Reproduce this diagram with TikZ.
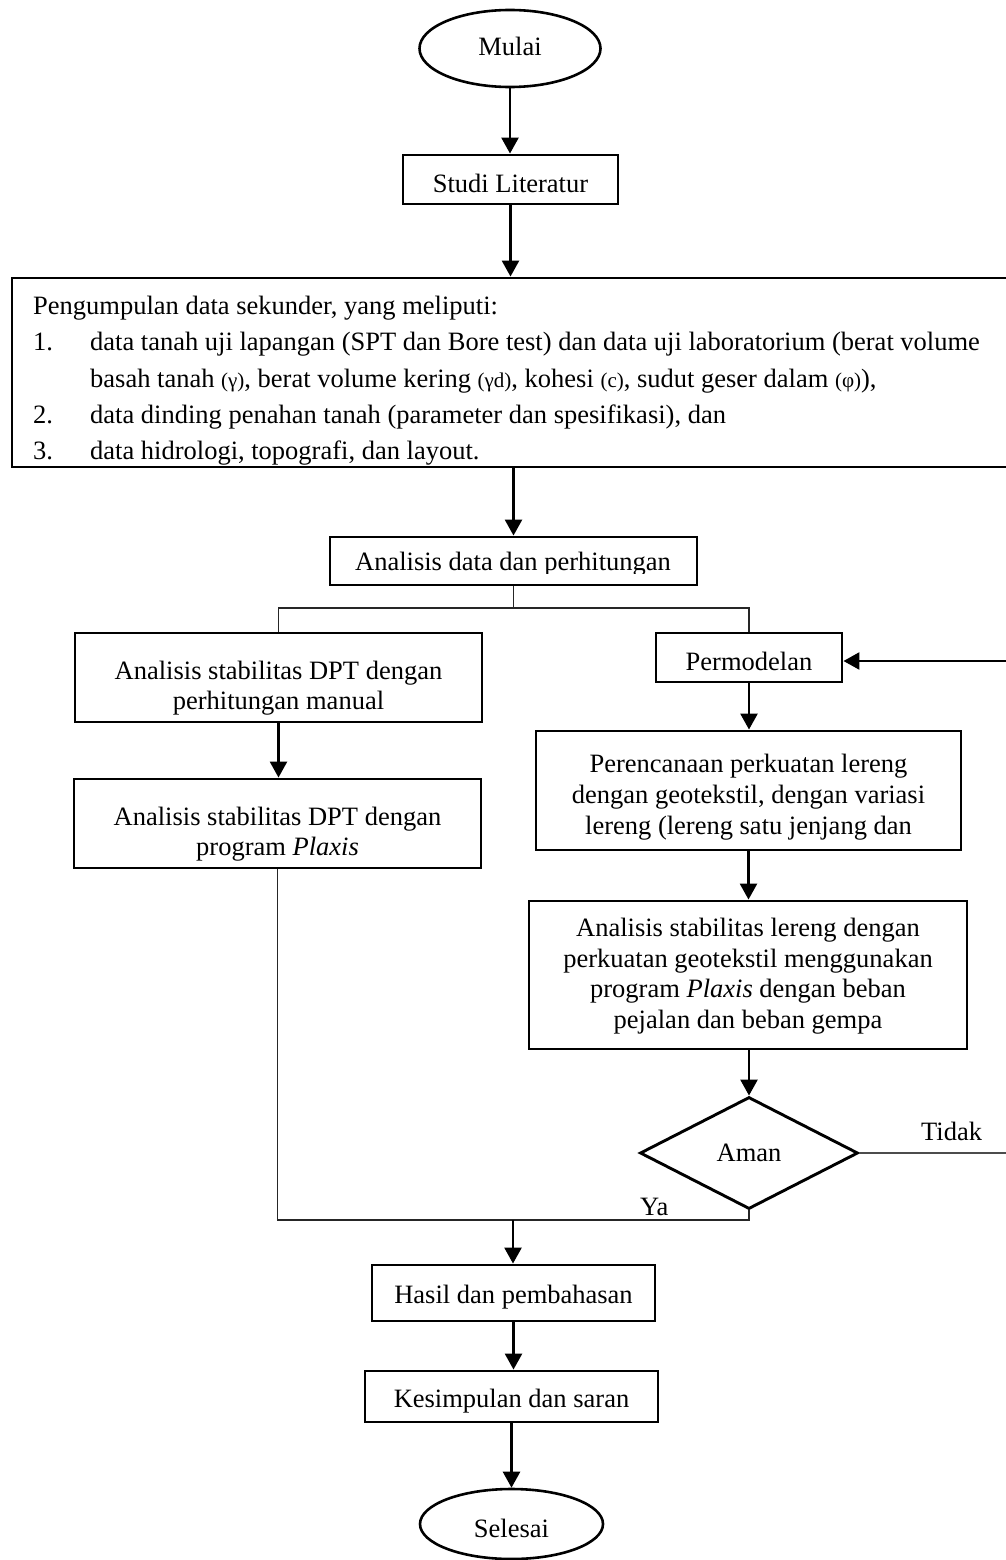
\documentclass[tikz,border=0pt]{standalone}
\usepackage{fontspec}
\setmainfont{Liberation Serif}
\usetikzlibrary{shapes.geometric,arrows.meta}
\newcommand{\fz}{\fontsize{26.5pt}{30.5pt}\selectfont}
\newcommand{\smf}{\fontsize{21pt}{30.5pt}\selectfont}
\begin{document}
\begin{tikzpicture}[x=1pt,y=-1pt,
  boxnode/.style={draw,line width=2.9pt,inner sep=0pt,rectangle},
  ovalnode/.style={draw,line width=2.6pt,inner sep=0pt,ellipse},
  txt/.style={inner sep=0pt,anchor=base,font=\fz},
  ltxt/.style={inner sep=0pt,anchor=base west,font=\fz},
  arr/.style={line width=2.6pt,-{Triangle[length=16pt,width=17pt]}},
  thinline/.style={line width=1.1pt,black!85},
]
\useasboundingbox (0,0) rectangle (1005,1560);

% start / end
\node[ovalnode,minimum width=181pt,minimum height=77pt] (mulai) at (510,48.5) {};
\node[txt] (tmulai) at (510,56) {Mulai};

\node[boxnode,minimum width=215pt,minimum height=49pt] (studi) at (510.5,179.5) {};
\node[txt] (tstudi) at (510.5,192) {Studi Literatur};

% big data box
\node[boxnode,minimum width=1000pt,minimum height=189pt] (data) at (512,372.5) {};
\node[ltxt] (l1) at (33,314) {Pengumpulan data sekunder, yang meliputi:};
\node[ltxt] (l2) at (33,350) {\makebox[57pt][l]{1.}data tanah uji lapangan (SPT dan Bore test) dan data uji laboratorium (berat volume};
\node[ltxt] (l3) at (90,387) {basah tanah {\smf(γ)}, berat volume kering {\smf(γd)}, kohesi {\smf(c)}, sudut geser dalam {\smf(φ)}),};
\node[ltxt] (l4) at (33,423) {\makebox[57pt][l]{2.}data dinding penahan tanah (parameter dan spesifikasi), dan};
\begin{scope}
\clip (20,430) rectangle (990,465.5);
\node[ltxt] (l5) at (33,459) {\makebox[57pt][l]{3.}data hidrologi, topografi, dan layout.};
\end{scope}

% analysis
\node[boxnode,minimum width=367pt,minimum height=48pt] (ad) at (513.5,561) {};
\begin{scope}
\clip (335,540) rectangle (690,573);
\node[txt] (tad) at (513,570) {Analisis data dan perhitungan};
\end{scope}

% left branch
\node[boxnode,minimum width=407pt,minimum height=89pt] (lb1) at (278.5,677.5) {};
\node[txt] (tlb1a) at (278.5,679) {Analisis stabilitas DPT dengan};
\node[txt] (tlb1b) at (278.5,709) {perhitungan manual};

\node[boxnode,minimum width=407pt,minimum height=89pt] (lb2) at (277.5,823.5) {};
\node[txt] (tlb2a) at (277.5,825) {Analisis stabilitas DPT dengan};
\node[txt] (tlb2b) at (277.5,855) {program \textit{Plaxis}};

% right branch
\node[boxnode,minimum width=186pt,minimum height=49pt] (pm) at (749,657.5) {};
\node[txt] (tpm) at (749,670) {Permodelan};

\node[boxnode,minimum width=425pt,minimum height=119pt] (pr) at (748.5,790.5) {};
\node[txt] (tpra) at (748.5,772) {Perencanaan perkuatan lereng};
\node[txt] (tprb) at (748.5,803) {dengan geotekstil, dengan variasi};
\node[txt] (tprc) at (748.5,834) {lereng (lereng satu jenjang dan};

\node[boxnode,minimum width=438pt,minimum height=148pt] (ls) at (748,975) {};
\node[txt] (tlsa) at (748,936.5) {Analisis stabilitas lereng dengan};
\node[txt] (tlsb) at (748,967) {perkuatan geotekstil menggunakan};
\node[txt] (tlsc) at (748,997.5) {program \textit{Plaxis} dengan beban};
\node[txt] (tlsd) at (748,1028) {pejalan dan beban gempa};

\node[diamond,draw,line width=2.9pt,inner sep=0pt,aspect=1.95,
      minimum width=218pt,minimum height=112pt,font=\fz] (aman) at (749,1153) {Aman};
\node[ltxt] (ttidak) at (921,1140) {Tidak};
\node[ltxt] (tya) at (640,1215) {Ya};

% bottom
\node[boxnode,minimum width=283pt,minimum height=56pt] (hasil) at (513.5,1293) {};
\node[txt] (thasil) at (513.5,1303) {Hasil dan pembahasan};

\node[boxnode,minimum width=293pt,minimum height=51pt] (kes) at (511.5,1396.5) {};
\node[txt] (tkes) at (511.5,1407) {Kesimpulan dan saran};

\node[ovalnode,minimum width=183pt,minimum height=70pt] (sel) at (511.5,1524) {};
\node[txt] (tsel) at (511.5,1537) {Selesai};

% helper coordinates
\coordinate (br) at (513.5,608);
\coordinate (ya) at (513,1220);
\coordinate (tk) at (1010,1153);
\coordinate (tk2) at (1010,661);

% connectors
\draw[arr] (mulai.south) -- (mulai.south |- studi.north);
\draw[arr] (studi.south) -- (studi.south |- data.north);
\draw[arr] (data.south -| ad.north) -- (ad.north);
\draw[thinline] (ad.south) -- (br);
\draw[thinline] (lb1.north) -- (lb1.north |- br) -- (pm.north |- br) -- (pm.north);
\draw[arr] (lb1.south) -- (lb1.south |- lb2.north);
\draw[arr] (pm.south) -- (pm.south |- pr.north);
\draw[arr] (pr.south) -- (pr.south |- ls.north);
\draw[arr] (ls.south -| aman.north) -- (aman.north);
\draw[thinline] (lb2.south) -- (lb2.south |- ya) -- (aman.south |- ya) -- (aman.south);
\draw[arr] (ya) -- (ya |- hasil.north);
\draw[arr] (hasil.south) -- (hasil.south |- kes.north);
\draw[arr] (kes.south) -- (kes.south |- sel.north);
\draw[thinline,black!70] (aman.east) -- (tk) -- (tk2);
\draw[arr] (tk2) -- (pm.east |- tk2);
\end{tikzpicture}
\end{document}
